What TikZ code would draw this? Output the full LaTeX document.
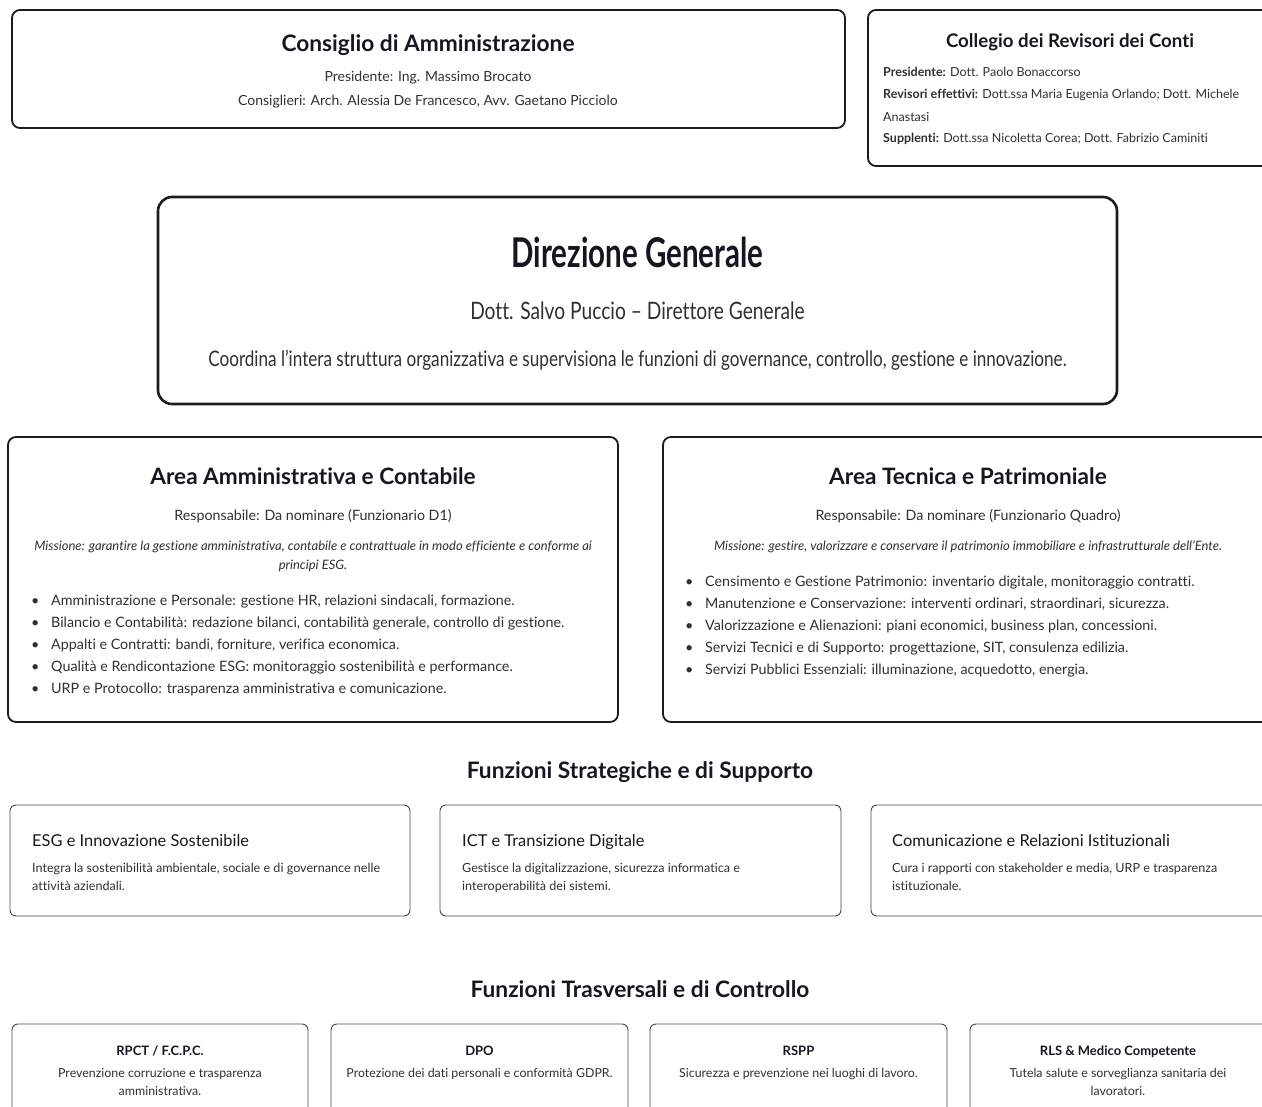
\documentclass[tikz,border=0pt]{standalone}
\usepackage{fontspec}
\setmainfont{Lato}[Ligatures={TeX,NoCommon}]
\newfontfamily\narrowfont{Lato}[FakeStretch=0.8,Ligatures={TeX,NoCommon}]
\newfontfamily\tightfont{Lato}[FakeStretch=0.72,Ligatures={TeX,NoCommon}]
\usepackage{xcolor}
\usepackage{tikz}
\definecolor{inkdark}{RGB}{22,22,34}
\definecolor{inkbody}{RGB}{48,48,52}
\definecolor{boxline}{RGB}{28,28,28}
\definecolor{thinline}{RGB}{70,70,70}
\newcommand{\fsz}[1]{\fontsize{#1}{#1}\selectfont}

\begin{document}
\begin{tikzpicture}[x=1pt,y=-1pt,
  card/.style={draw=boxline,line width=1.8pt,rounded corners=8pt},
  softcard/.style={draw=thinline,line width=0.9pt,rounded corners=6pt},
  txt/.style={inner sep=0pt,anchor=base,text=inkbody},
  head/.style={txt,text=inkdark,font=\bfseries\fsz{#1}},
  body/.style={txt,font=\fsz{#1}},
  lbody/.style={body=#1,anchor=base west},
  mis/.style={txt,font=\itshape\fsz{13}},
  bul/.style={lbody=14.3}]
\useasboundingbox (0,0) rectangle (1262,1107);
\clip (0,0) rectangle (1262,1107);
% Top boxes
\draw[card] (12,10) rectangle (845,128);
\node[head=22.7] (cdaTitle) at (428,52) {Consiglio di Amministrazione};
\node[body=14] (cdaPres) at (428,82) {Presidente: Ing. Massimo Brocato};
\node[body=14] (cdaCons) at (428,106) {Consiglieri: Arch. Alessia De Francesco, Avv. Gaetano Picciolo};
\draw[card] (868,10) rectangle (1300,166);
\node[head=18.7] (colTitle) at (1070,47.5) {Collegio dei Revisori dei Conti};
\node[lbody=12.5] (colPres) at (883,76.5) {\textbf{Presidente:} Dott. Paolo Bonaccorso};
\node[lbody=12.5] (colRev) at (883,98.5) {\textbf{Revisori effettivi:} Dott.ssa Maria Eugenia Orlando; Dott. Michele};
\node[lbody=12.5] (colRev2) at (883,121.5) {Anastasi};
\node[lbody=12.5] (colSup) at (883,142.5) {\textbf{Supplenti:} Dott.ssa Nicoletta Corea; Dott. Fabrizio Caminiti};
% Direzione Generale
\draw[card,line width=2.6pt,rounded corners=14pt] (158,197) rectangle (1117,404);
\node[txt,text=inkdark,font=\tightfont\bfseries\fsz{41}] (dgTitle) at (637.5,268) {Direzione Generale};
\node[txt,font=\narrowfont\fsz{24}] (dgName) at (637.5,320) {Dott. Salvo Puccio – Direttore Generale};
\node[txt,font=\narrowfont\fsz{21.4}] (dgDesc) at (637.5,367) {Coordina l’intera struttura organizzativa e supervisiona le funzioni di governance, controllo, gestione e innovazione.};
% Aree
\draw[card] (8,437) rectangle (618,722);
\node[head=22.6] (ammTitle) at (313,484) {Area Amministrativa e Contabile};
\node[body=14.25] (ammResp) at (313,520) {Responsabile: Da nominare (Funzionario D1)};
\node[mis] (ammMis) at (313,550) {Missione: garantire la gestione amministrativa, contabile e contrattuale in modo efficiente e conforme ai};
\node[mis] (ammMis2) at (313,569) {principi ESG.};
\foreach \txt [count=\i from 0] in {{Amministrazione e Personale: gestione HR, relazioni sindacali, formazione.},
  {Bilancio e Contabilità: redazione bilanci, contabilità generale, controllo di gestione.},
  {Appalti e Contratti: bandi, forniture, verifica economica.},
  {Qualità e Rendicontazione ESG: monitoraggio sostenibilità e performance.},
  {URP e Protocollo: trasparenza amministrativa e comunicazione.}}
  \node[bul] (amm\i) at (31,605+22*\i) {\makebox[20pt][l]{\textbullet}\txt};
\draw[card] (663,437) rectangle (1300,722);
\node[head=22.6] (tecTitle) at (968,484) {Area Tecnica e Patrimoniale};
\node[body=14.25] (tecResp) at (968,520) {Responsabile: Da nominare (Funzionario Quadro)};
\node[mis] (tecMis) at (968,550) {Missione: gestire, valorizzare e conservare il patrimonio immobiliare e infrastrutturale dell'Ente.};
\foreach \txt [count=\i from 0] in {{Censimento e Gestione Patrimonio: inventario digitale, monitoraggio contratti.},
  {Manutenzione e Conservazione: interventi ordinari, straordinari, sicurezza.},
  {Valorizzazione e Alienazioni: piani economici, business plan, concessioni.},
  {Servizi Tecnici e di Supporto: progettazione, SIT, consulenza edilizia.},
  {Servizi Pubblici Essenziali: illuminazione, acquedotto, energia.}}
  \node[bul] (tec\i) at (685,586+22*\i) {\makebox[20pt][l]{\textbullet}\txt};
% Funzioni strategiche
\node[head=22.7] (strTitle) at (640,778) {Funzioni Strategiche e di Supporto};
\draw[softcard] (10,805) rectangle (410,916);
\draw[softcard] (440,805) rectangle (841,916);
\draw[softcard] (871,805) rectangle (1300,916);
\node[lbody=16.4,text=inkdark] (esgT) at (32,846) {ESG e Innovazione Sostenibile};
\node[lbody=12.6] (esgD) at (32,872) {Integra la sostenibilità ambientale, sociale e di governance nelle};
\node[lbody=12.6] (esgD2) at (32,890) {attività aziendali.};
\node[lbody=16.4,text=inkdark] (ictT) at (462,846) {ICT e Transizione Digitale};
\node[lbody=12.6] (ictD) at (462,872) {Gestisce la digitalizzazione, sicurezza informatica e};
\node[lbody=12.6] (ictD2) at (462,890) {interoperabilità dei sistemi.};
\node[lbody=16.4,text=inkdark] (comT) at (892,846) {Comunicazione e Relazioni Istituzionali};
\node[lbody=12.6] (comD) at (892,872) {Cura i rapporti con stakeholder e media, URP e trasparenza};
\node[lbody=12.6] (comD2) at (892,890) {istituzionale.};
% Funzioni trasversali
\node[head=22.7] (trsTitle) at (640,997) {Funzioni Trasversali e di Controllo};
\draw[softcard] (12,1024) rectangle (308,1140);
\draw[softcard] (331,1024) rectangle (628,1140);
\draw[softcard] (650,1024) rectangle (947,1140);
\draw[softcard] (970,1024) rectangle (1300,1140);
\node[head=13] (rpctT) at (160,1055) {RPCT / F.C.P.C.};
\node[body=12.4] (rpctD) at (160,1077) {Prevenzione corruzione e trasparenza};
\node[body=12.4] (rpctD2) at (160,1095) {amministrativa.};
\node[head=13] (dpoT) at (479.5,1055) {DPO};
\node[body=12.4] (dpoD) at (479.5,1077) {Protezione dei dati personali e conformità GDPR.};
\node[head=13] (rsppT) at (798.5,1055) {RSPP};
\node[body=12.4] (rsppD) at (798.5,1077) {Sicurezza e prevenzione nei luoghi di lavoro.};
\node[head=13] (rlsT) at (1118,1055) {RLS \& Medico Competente};
\node[body=12.4] (rlsD) at (1118,1077) {Tutela salute e sorveglianza sanitaria dei};
\node[body=12.4] (rlsD2) at (1118,1095) {lavoratori.};
\end{tikzpicture}
\end{document}
